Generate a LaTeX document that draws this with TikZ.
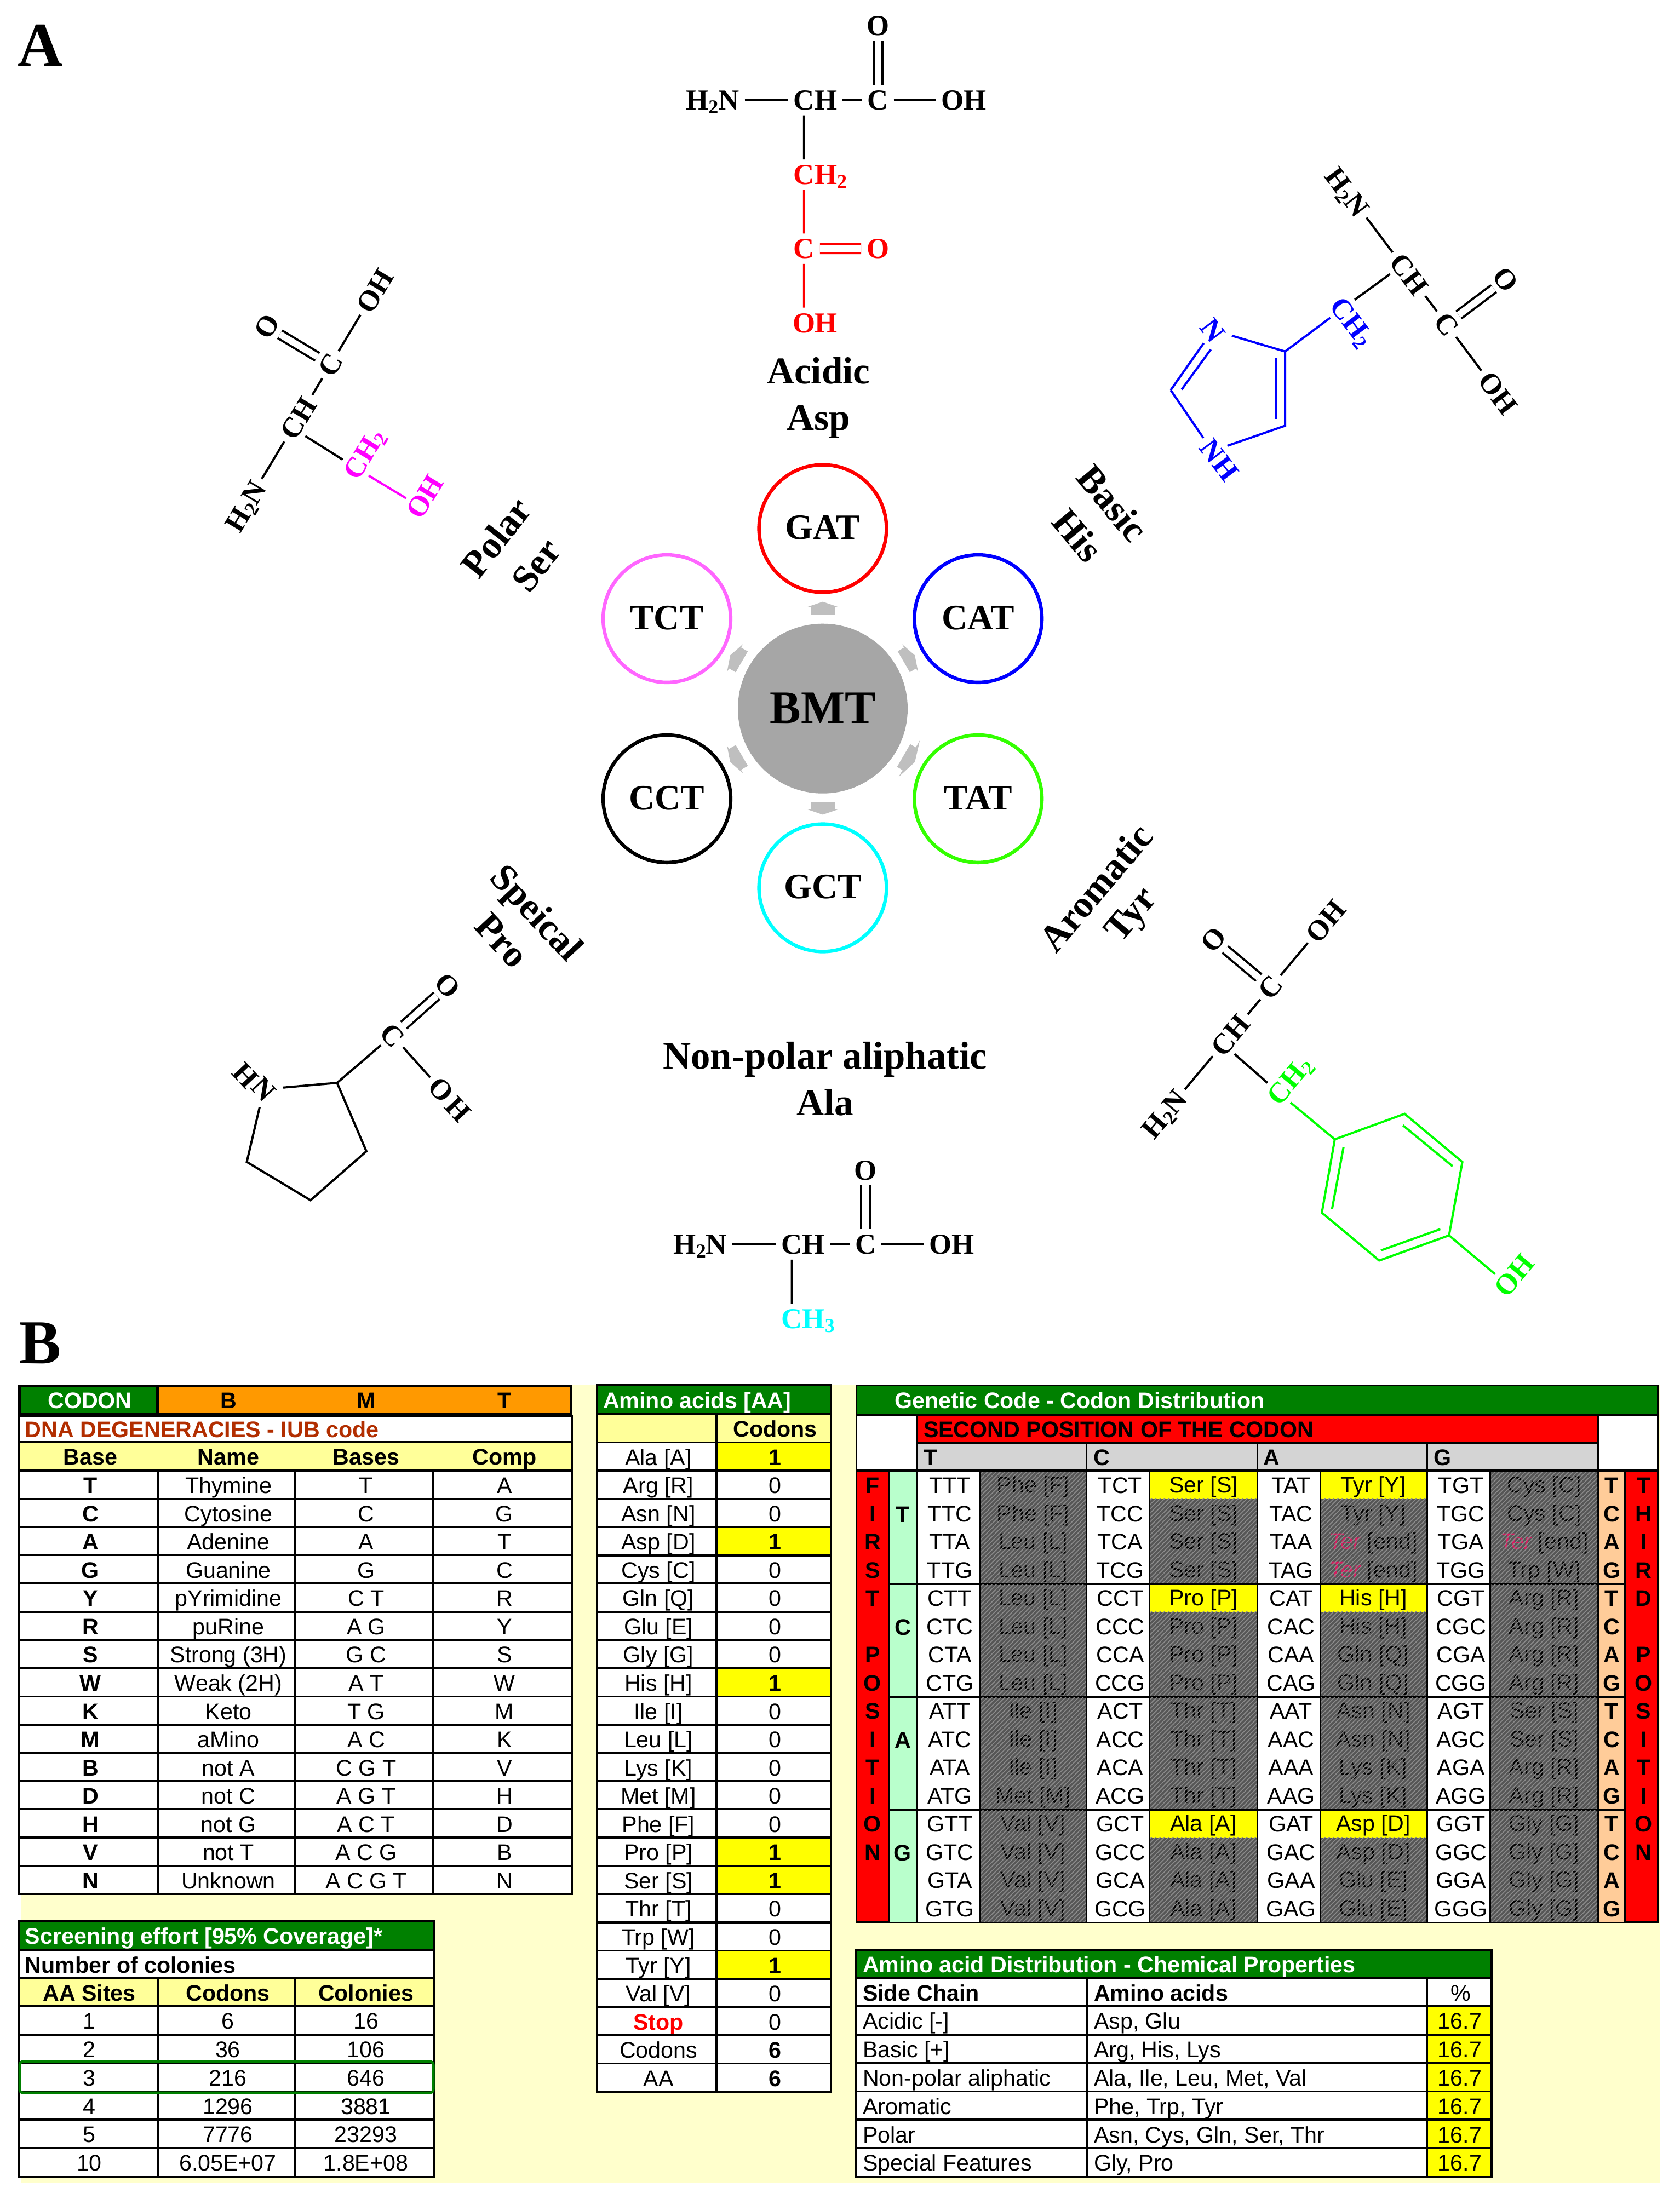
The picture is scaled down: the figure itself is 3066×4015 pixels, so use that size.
\documentclass[tikz,border=0pt]{standalone}
\usepackage{fontspec}
\setmainfont{Liberation Sans}
\newfontfamily\tms{Liberation Serif}
\usetikzlibrary{patterns.meta,arrows.meta,calc}
\definecolor{yellow}{HTML}{FFFF00}
\definecolor{cyan}{HTML}{00FFFF}
\definecolor{cream}{HTML}{FFFFCC}
\definecolor{yel}{HTML}{FFFF99}
\definecolor{dgreen}{HTML}{008000}
\definecolor{orng}{HTML}{FF9900}
\definecolor{iub}{HTML}{B22E00}
\definecolor{pale}{HTML}{B9FFCC}
\definecolor{peach}{HTML}{FFCC99}
\definecolor{hgrey}{HTML}{D4D4D4}
\definecolor{hatchbg}{HTML}{565656}
\definecolor{hatchln}{HTML}{8C8C8C}
\definecolor{tercol}{HTML}{D81B60}
\definecolor{arrowg}{HTML}{BFBFBF}
\definecolor{bmtg}{HTML}{A6A6A6}
\definecolor{lime}{HTML}{33FF00}
\definecolor{tct}{HTML}{FF66FF}
\newcommand\atsub[1]{\raisebox{-0.28ex}{\fontsize{9}{9}\selectfont #1}}
\newcommand\Ter{\textcolor{tercol}{\itshape Ter} [end]}
\tikzset{
 tc/.style={inner sep=0pt,outer sep=0pt,text height=7.9pt,text depth=0pt,font=\fontsize{10.3}{12}\selectfont},
 tb/.style={tc,font=\fontsize{10.3}{12}\selectfont\bfseries},
 atom/.style={inner sep=0pt,outer sep=2.5pt,text height=8.9pt,text depth=0pt,font=\tms\bfseries\fontsize{13.2}{15}\selectfont},
 lab/.style={inner sep=0pt,text height=11.6pt,text depth=0pt,font=\tms\bfseries\fontsize{17.3}{20}\selectfont},
 panel/.style={inner sep=0pt,text height=19.3pt,text depth=0pt,font=\tms\bfseries\fontsize{28.5}{32}\selectfont},
 ring/.style={circle,draw,line width=1.6pt,minimum size=58.2pt,inner sep=0pt,fill=white,
   text height=9.8pt,text depth=0pt,font=\tms\bfseries\fontsize{16.3}{19}\selectfont},
 bond/.style={line width=1pt,line cap=butt},
 dbl/.style={line width=1pt,double=white,double distance=3pt},
 gl/.style={line width=0.9pt,black},
 fat/.style={line width=11pt,draw=arrowg,-{Triangle[width=14.5pt,length=2.5pt]},shorten <=3.75pt,shorten >=3.5pt},
 hatchover/.style={pattern={Lines[angle=45,distance=1.4pt,line width=0.42pt]},pattern color=hatchln},
}
% one backbone H2N-CH-C(=O)-OH, with the C of CH at the given point
\newcommand\backbone[4]{%
 \begin{scope}[shift={(#2,#3)},rotate=#4,transform shape]
  \node[atom] (#1ca) at (0,0) {C};
  \node[atom] (#1ha) at (39.75,0) {H};
  \node[atom] (#1cb) at (134.7,0) {C};
  \node[atom] (#1o) at (134.7,-135.7) {O};
  \node[atom] (#1oh) at (291.8,0) {OH};
  \node[atom] (#1n) at (-167,0) {H\atsub{2}N};
  \draw[bond] (#1n) -- (#1ca);
  \draw[bond] (#1ha) -- (#1cb);
  \draw[bond] (#1cb) -- (#1oh);
  \draw[dbl] (#1cb) -- (#1o);
 \end{scope}}
% genetic code
\newcommand\gcline[5]{% col, group, j, codon, aa
 \pgfmathsetmacro\gy{2685.4+206*#2+51.5*#3+25.3}
 \ifcase#1\or\def\gcx{1734}\def\gax{1886}\or\def\gcx{2045}\def\gax{2197}\or\def\gcx{2357}\def\gax{2507}\or\def\gcx{2667}\def\gax{2819}\fi
 \node[tc] (gc-#1-#2-#3) at (\gcx,\gy) {#4};
 \node[tc] (ga-#1-#2-#3) at (\gax,\gy-1) {#5};}
\newcommand\gcgroup[8]{% col, group, two letters, aa1..aa4, flag
 \ifcase#1\or\def\cA{1675}\def\cB{1787}\def\hA{1790}\def\hB{1982}\or\def\cA{1985}\def\cB{2098}\def\hA{2100}\def\hB{2294}\or\def\cA{2297}\def\cB{2409}\def\hA{2411}\def\hB{2604}\or\def\cA{2607}\def\cB{2719}\def\hA{2722}\def\hB{2916}\fi
 \pgfmathsetmacro\gA{2687.5+206*#2}
 \pgfmathsetmacro\gB{2887.5+206*#2+3}
 \pgfmathsetmacro\gC{\gA+49}
 \fill[white] (\cA,\gA) rectangle (\cB,\gB);
 \fill[hatchbg] (\hA,\gA) rectangle (\hB,\gB);
 \if#8y\fill[yellow] (\hA,\gA) rectangle (\hB,\gC);\fi
 \gcline{#1}{#2}{0}{#3T}{#4}
 \gcline{#1}{#2}{1}{#3C}{#5}
 \gcline{#1}{#2}{2}{#3A}{#6}
 \gcline{#1}{#2}{3}{#3G}{#7}
 \if#8y\path[hatchover] (\hA,\gC) rectangle (\hB,\gB);\else\path[hatchover] (\hA,\gA) rectangle (\hB,\gB);\fi}
\begin{document}
\begin{tikzpicture}[x=0.25pt,y=-0.25pt]
\useasboundingbox[fill=white] (0,0) rectangle (3066,4015);
% ---------- panel letters
\node[panel] (panelA) at (74,82) {A};
\node[panel] (panelB) at (74,2451) {B};
% ---------- hub
\node[circle,fill=bmtg,minimum size=77.5pt,inner sep=0pt,text height=13.3pt,text depth=0pt,font=\tms\bfseries\fontsize{21.2}{24}\selectfont] (bmt) at (1502,1293.7) {BMT};
\node[ring,draw=red] (gat) at (1502,965) {GAT};
\node[ring,draw=blue] (cat) at (1785.7,1129.5) {CAT};
\node[ring,draw=lime] (tat) at (1785.7,1458.4) {TAT};
\node[ring,draw=cyan] (gct) at (1502,1621) {GCT};
\node[ring,draw=black] (cct) at (1217.5,1458.4) {CCT};
\node[ring,draw=tct] (tctn) at (1217.5,1129.5) {TCT};
\draw[fat] (bmt) -- (gat);
\draw[fat] (bmt) -- (cat);
\draw[fat,line width=12pt,-{Triangle[width=19.2pt,length=3pt]}] (bmt) -- (tat);
\draw[fat] (bmt) -- (gct);
\draw[fat] (bmt) -- (cct);
\draw[fat] (bmt) -- (tctn);
% ---------- Asp
\backbone{asp}{1467.9}{182.7}{0}
\begin{scope}[shift={(1150,0)},scale=0.5102]
 \node[atom,red] (aspc2) at (623,625) {C};
 \node[atom,red] (asph2) at (701,625) {H\rlap{\atsub{2}}};
 \node[atom,red] (aspc3) at (623,890) {C};
 \node[atom,red] (aspo3) at (887,890) {O};
 \node[atom,red] (aspo4) at (623,1155) {O};
 \node[atom,red] (asph4) at (701,1155) {H};
 \draw[bond] (aspca) -- (aspc2);
 \draw[bond,red] (aspc2) -- (aspc3);
 \draw[bond,red] (aspc3) -- (aspo4);
 \draw[dbl,red] (aspc3) -- (aspo3);
 \node[lab] (lAcidic) at (675,1328) {Acidic};
 \node[lab] (lAsp) at (675,1495) {Asp};
\end{scope}
% ---------- His
\backbone{his}{2559.8}{484.1}{-53.1}
\begin{scope}[shift={(1950,250)},scale=0.5425,blue]
 \node[atom,rotate=-53] (hisc2) at (923,578) {C};
 \node[atom,rotate=-53] (hish2) at (967,637) {H\rlap{\atsub{2}}};
 \node[atom,rotate=-53] (hisn1) at (487,650) {N};
 \node[atom,rotate=-53] (hisn2) at (485,1057) {N};
 \node[atom,rotate=-53] (hish3) at (531,1116) {H};
 \coordinate (hisr1) at (730,722);
 \coordinate (hisr2) at (730,972);
 \coordinate (hisr4) at (345,852);
 \coordinate (hisi1) at (700,745);
 \coordinate (hisi2) at (700,950);
 \coordinate (hisi3) at (382,850);
 \coordinate (hisi4) at (480,715);
 \draw[bond,black] (hisca) -- (hisc2);
 \draw[bond] (hisc2) -- (hisr1);
 \draw[bond] (hisn1) -- (hisr1);
 \draw[bond,line join=miter] (hisn2) -- (hisr2) -- (hisr1);
 \draw[bond] (hisn1) -- (hisr4);
 \draw[bond] (hisr4) -- (hisn2);
 \draw[bond] (hisi1) -- (hisi2);
 \draw[bond] (hisi3) -- (hisi4);
\end{scope}
\begin{scope}[black]
\node[lab,rotate=-50] (lBasic) at (2031,919) {Basic};
\node[lab,rotate=-50] (lHis) at (1967,978) {His};
\end{scope}
% ---------- Ser
\backbone{ser}{533.9}{781.3}{59}
\begin{scope}[shift={(350,450)},scale=0.4464]
 \definecolor{mag}{HTML}{FF00FF}
 \node[atom,rotate=59,mag] (serc2) at (670,905) {C};
 \node[atom,rotate=59,mag] (serh2) at (716,829) {H\rlap{\atsub{2}}};
 \node[atom,rotate=59,mag] (sero3) at (930,1062) {O};
 \node[atom,rotate=59,mag] (serh3) at (976,985) {H};
 \draw[bond] (serca) -- (serc2);
 \draw[bond,mag] (serc2) -- (sero3);
 \node[lab,rotate=52] (lPolar) at (1245,1190) {Polar};
 \node[lab,rotate=52] (lSer) at (1408,1303) {Ser};
\end{scope}
% ---------- Pro
\begin{scope}[shift={(350,1500)},scale=0.5102]
 \node[atom,rotate=-47] (proh) at (193,908) {H};
 \node[atom,rotate=-47] (pron) at (258,958) {N};
 \node[atom,rotate=-47] (proc) at (718,765) {C};
 \node[atom,rotate=-47] (proo) at (917,587) {O};
 \node[atom,rotate=-47] (prooh) at (893,960) {O};
 \node[atom,rotate=-47] (prohh) at (953,1030) {H};
 \coordinate (pror1) at (520,935);
 \coordinate (pror2) at (625,1180);
 \coordinate (pror3) at (425,1355);
 \coordinate (pror4) at (197,1218);
 \draw[bond] (pron) -- (pror1);
 \draw[bond] (pror1) -- (proc);
 \draw[bond,line join=miter] (pror1) -- (pror2) -- (pror3) -- (pror4) -- (pron);
 \draw[dbl] (proc) -- (proo);
 \draw[bond] (proc) -- (prooh);
 \node[lab,rotate=-47] (lSpeical) at (1235,325) {Speical};
 \node[lab,rotate=-47] (lPro) at (1110,425) {Pro};
\end{scope}
% ---------- Tyr
\backbone{tyr}{2232.7}{1906}{50}
\begin{scope}[shift={(1850,1450)},scale=0.6378]
 \definecolor{grn}{HTML}{00FF00}
 \node[atom,rotate=50,grn] (tyrc2) at (760,855) {C};
 \node[atom,rotate=50,grn] (tyrh2) at (800,807) {H\rlap{\atsub{2}}};
 \node[atom,rotate=50,grn] (tyro) at (1412,1402) {O};
 \node[atom,rotate=50,grn] (tyrhh) at (1454,1352) {H};
 \coordinate (tyrr1) at (920,988);
 \coordinate (tyrr2) at (1120,915);
 \coordinate (tyrr3) at (1285,1053);
 \coordinate (tyrr4) at (1247,1263);
 \coordinate (tyrr5) at (1047,1335);
 \coordinate (tyrr6) at (883,1198);
 \coordinate (tyri1) at (1115,948);
 \coordinate (tyri2) at (1257,1065);
 \coordinate (tyri3) at (1222,1245);
 \coordinate (tyri4) at (1052,1306);
 \coordinate (tyri5) at (945,1010);
 \coordinate (tyri6) at (912,1188);
 \draw[bond] (tyrca) -- (tyrc2);
 \draw[bond,grn] (tyrc2) -- (tyrr1);
 \draw[bond,grn,line join=miter] (tyrr1) -- (tyrr2) -- (tyrr3) -- (tyrr4) -- (tyrr5) -- (tyrr6) -- cycle;
 \draw[bond,grn] (tyrr4) -- (tyro);
 \draw[bond,grn] (tyri1) -- (tyri2);
 \draw[bond,grn] (tyri3) -- (tyri4);
 \draw[bond,grn] (tyri5) -- (tyri6);
 \node[lab,rotate=50] (lAromatic) at (236,268) {Aromatic};
 \node[lab,rotate=50] (lTyr) at (333,342) {Tyr};
\end{scope}
% ---------- Ala
\backbone{ala}{1445.5}{2272}{0}
\begin{scope}[shift={(1150,1850)},scale=0.4464]
 \node[atom,cyan] (alac2) at (662,1250) {C};
 \node[atom,cyan] (alah2) at (751,1250) {H\rlap{\atsub{3}}};
 \draw[bond] (alaca) -- (alac2);
 \node[lab,font=\tms\bfseries\fontsize{17.7}{20}\selectfont] (lNonpolar) at (798,176) {Non-polar aliphatic};
 \node[lab] (lAla) at (798,366) {Ala};
\end{scope}
% ---------- cream ground
\fill[cream] (38,2529) rectangle (3030,3986);
% ---------- table 1: IUB code
\fill[white] (33,2585) rectangle (1045,3458);
\fill[yel] (33,2633) rectangle (1045,2685);
\fill[black] (33,2529) rectangle (1045,2585);
\fill[dgreen] (38.5,2533) rectangle (284,2579);
\fill[orng] (291,2533) rectangle (1040,2579);
\node[tb,white] (codon) at (164,2556) {CODON};
\node[tb] (hB) at (417,2556) {B};
\node[tb] (hM) at (668.5,2556) {M};
\node[tb] (hT) at (921,2556) {T};
\node[tb,iub,anchor=west] (iubt) at (46,2609) {DNA DEGENERACIES - IUB code};
\node[tb] (bh1) at (165,2659) {Base};
\node[tb] (bh2) at (417,2659) {Name};
\node[tb] (bh3) at (668.5,2659) {Bases};
\node[tb] (bh4) at (921,2659) {Comp};
\foreach \a/\b/\c/\d [count=\k from 0] in {T/Thymine/T/A,C/Cytosine/C/G,A/Adenine/A/T,G/Guanine/G/C,Y/pYrimidine/C T/R,R/puRine/A G/Y,S/Strong (3H)/G C/S,W/Weak (2H)/A T/W,K/Keto/T G/M,M/aMino/A C/K,B/not A/C G T/V,D/not C/A G T/H,H/not G/A C T/D,V/not T/A C G/B,N/Unknown/A C G T/N}{
 \pgfmathsetmacro\yy{2685+51.55*\k+25.8}
 \node[tb] (iub\k a) at (165,\yy) {\a};
 \node[tc] (iub\k b) at (417,\yy) {\b};
 \node[tc] (iub\k c) at (668.5,\yy) {\c};
 \node[tc] (iub\k d) at (921,\yy) {\d};
 \pgfmathsetmacro\yl{2685+51.55*\k}
 \draw[gl] (34,\yl) -- (1044,\yl);
}
\draw[gl] (34,2633) -- (1044,2633);
\draw[gl] (288,2685) -- (288,3458) (539,2685) -- (539,3458) (791,2685) -- (791,3458);
\draw[line width=1.1pt] (34,2585) rectangle (1044,3458);
% ---------- table 2: amino acids
\fill[white] (1090,2582) rectangle (1517,3819);
\fill[dgreen] (1090,2529) rectangle (1517,2582);
\fill[yel] (1090,2582) rectangle (1517,2633);
\node[tb,white,anchor=west] (aah) at (1101,2556) {Amino acids [AA]};
\node[tb] (cdh) at (1415,2608) {Codons};
\foreach \a/\b/\f [count=\k from 0] in {Ala [A]/1/1,Arg [R]/0/0,Asn [N]/0/0,Asp [D]/1/1,Cys [C]/0/0,Gln [Q]/0/0,Glu [E]/0/0,Gly [G]/0/0,His [H]/1/1,Ile [I]/0/0,Leu [L]/0/0,Lys [K]/0/0,Met [M]/0/0,Phe [F]/0/0,Pro [P]/1/1,Ser [S]/1/1,Thr [T]/0/0,Trp [W]/0/0,Tyr [Y]/1/1,Val [V]/0/0}{
 \pgfmathsetmacro\yl{2633.5+51.55*\k}
 \pgfmathsetmacro\yn{\yl+51.55}
 \pgfmathsetmacro\yy{\yl+25.8}
 \ifnum\f=1 \fill[yellow] (1308,\yl) rectangle (1517,\yn);\fi
 \node[tc] (aa\k a) at (1202,\yy) {\a};
 \ifnum\f=1 \node[tb] (aa\k b) at (1415,\yy) {\b};\else\node[tc] (aa\k b) at (1415,\yy) {\b};\fi
}
\foreach \k/\a in {20/Stop,21/Codons,22/AA}{
 \pgfmathsetmacro\yy{2633.5+51.55*\k+25.8}
 \ifnum\k=20 \node[tb,red] (aa\k a) at (1202,\yy) {\a};\node[tc] (aa\k b) at (1415,\yy) {0};
 \else\node[tc] (aa\k a) at (1202,\yy) {\a};\node[tb] (aa\k b) at (1415,\yy) {6};\fi
}
\foreach \k in {-1,0,...,22}{
 \pgfmathsetmacro\yl{2633.5+51.55*\k}
 \draw[gl] (1090,\yl) -- (1517,\yl);
}
\draw[gl] (1308,2582) -- (1308,3819);
\draw[line width=1.1pt] (1090,2529) rectangle (1517,3819);
% ---------- genetic code
\fill[black] (1562,2528) rectangle (3028,3511);
\fill[dgreen] (1565,2531) rectangle (3025,2581);
\node[tb,white,anchor=west] (gch) at (1633.5,2556) {Genetic Code - Codon Distribution};
\fill[white] (1565,2585) rectangle (1672,2683);
\fill[white] (2919,2585) rectangle (3025,2683);
\fill[red] (1675,2585) rectangle (2916,2633);
\node[tb,anchor=west] (gsec) at (1686,2609) {SECOND POSITION OF THE CODON};
\fill[hgrey] (1675,2636) rectangle (1982,2683);
\fill[hgrey] (1985,2636) rectangle (2294,2683);
\fill[hgrey] (2297,2636) rectangle (2604,2683);
\fill[hgrey] (2607,2636) rectangle (2916,2683);
\node[tb,anchor=west] (gt2) at (1686,2660) {T};
\node[tb,anchor=west] (gc2) at (1996,2660) {C};
\node[tb,anchor=west] (ga2) at (2306,2660) {A};
\node[tb,anchor=west] (gg2) at (2617,2660) {G};
\fill[red] (1565,2687) rectangle (1621,3508);
\fill[red] (2969,2687) rectangle (3025,3508);
\foreach \g/\l in {0/T,1/C,2/A,3/G}{
 \pgfmathsetmacro\gA{2687.5+206*\g}
 \pgfmathsetmacro\gB{\gA+203}
 \pgfmathsetmacro\gM{2685.4+206*\g+78.5}
 \fill[pale] (1625,\gA) rectangle (1672,\gB);
 \node[tb] (first\l) at (1648,\gM) {\l};
 \fill[peach] (2919,\gA) rectangle (2965,\gB);
 \foreach \j/\m in {0/T,1/C,2/A,3/G}{
  \pgfmathsetmacro\gy{2685.4+206*\g+51.5*\j+25.5}
  \node[tb] (third\g\m) at (2942,\gy) {\m};
 }
}
\foreach \l/\k in {F/0,I/1,R/2,S/3,T/4,P/6,O/7,S/8,I/9,T/10,I/11,O/12,N/13}{
 \pgfmathsetmacro\gy{2685.4+51.5*\k+25.5}
 \node[tb,black] (fp\k) at (1593,\gy) {\l};
}
\foreach \l/\k in {T/0,H/1,I/2,R/3,D/4,P/6,O/7,S/8,I/9,T/10,I/11,O/12,N/13}{
 \pgfmathsetmacro\gy{2685.4+51.5*\k+25.5}
 \node[tb,black] (tp\k) at (3000.7,\gy) {\l};
}
\gcgroup{1}{0}{TT}{Phe [F]}{Phe [F]}{Leu [L]}{Leu [L]}{n}
\gcgroup{1}{1}{CT}{Leu [L]}{Leu [L]}{Leu [L]}{Leu [L]}{n}
\gcgroup{1}{2}{AT}{Ile [I]}{Ile [I]}{Ile [I]}{Met [M]}{n}
\gcgroup{1}{3}{GT}{Val [V]}{Val [V]}{Val [V]}{Val [V]}{n}
\gcgroup{2}{0}{TC}{Ser [S]}{Ser [S]}{Ser [S]}{Ser [S]}{y}
\gcgroup{2}{1}{CC}{Pro [P]}{Pro [P]}{Pro [P]}{Pro [P]}{y}
\gcgroup{2}{2}{AC}{Thr [T]}{Thr [T]}{Thr [T]}{Thr [T]}{n}
\gcgroup{2}{3}{GC}{Ala [A]}{Ala [A]}{Ala [A]}{Ala [A]}{y}
\gcgroup{3}{0}{TA}{Tyr [Y]}{Tyr [Y]}{\Ter}{\Ter}{y}
\gcgroup{3}{1}{CA}{His [H]}{His [H]}{Gln [Q]}{Gln [Q]}{y}
\gcgroup{3}{2}{AA}{Asn [N]}{Asn [N]}{Lys [K]}{Lys [K]}{n}
\gcgroup{3}{3}{GA}{Asp [D]}{Asp [D]}{Glu [E]}{Glu [E]}{y}
\gcgroup{4}{0}{TG}{Cys [C]}{Cys [C]}{\Ter}{Trp [W]}{n}
\gcgroup{4}{1}{CG}{Arg [R]}{Arg [R]}{Arg [R]}{Arg [R]}{n}
\gcgroup{4}{2}{AG}{Ser [S]}{Ser [S]}{Arg [R]}{Arg [R]}{n}
\gcgroup{4}{3}{GG}{Gly [G]}{Gly [G]}{Gly [G]}{Gly [G]}{n}
% ---------- screening effort
\fill[white] (34,3560) rectangle (793,3975);
\fill[dgreen] (34,3508) rectangle (793,3560);
\fill[yel] (34,3612) rectangle (793,3663);
\node[tb,white,anchor=west] (scr) at (46,3534) {Screening effort [95\% Coverage]*};
\node[tb,anchor=west] (ncol) at (46,3587) {Number of colonies};
\node[tb] (sh1) at (163,3638) {AA Sites};
\node[tb] (sh2) at (416,3638) {Codons};
\node[tb] (sh3) at (668,3638) {Colonies};
\foreach \a/\b/\c [count=\k from 3] in {1/6/16,2/36/106,3/216/646,4/1296/3881,5/7776/23293,10/6.05E+07/1.8E+08}{
 \pgfmathsetmacro\yy{3508+51.75*\k+25.9}
 \node[tc] (s\k a) at (163,\yy) {\a};
 \node[tc] (s\k b) at (416,\yy) {\b};
 \node[tc] (s\k c) at (668,\yy) {\c};
}
\foreach \k in {1,...,8}{
 \pgfmathsetmacro\yl{3508+51.75*\k}
 \draw[gl] (34,\yl) -- (793,\yl);
}
\draw[gl] (288,3612) -- (288,3974) (539,3612) -- (539,3974);
\draw[line width=1.1pt] (34,3508) rectangle (793,3975);
\draw[dgreen,line width=1.25pt,rounded corners=1.5pt] (36,3764) rectangle (791,3821);
% ---------- chemical properties
\fill[white] (1562,3612) rectangle (2723,3975);
\fill[dgreen] (1562,3560) rectangle (2723,3612);
\fill[yellow] (2605,3663) rectangle (2723,3975);
\node[tb,white,anchor=west] (cph) at (1575,3586) {Amino acid Distribution - Chemical Properties};
\node[tb,anchor=west] (cp1a) at (1575,3638) {Side Chain};
\node[tb,anchor=west] (cp1b) at (1997,3638) {Amino acids};
\node[tc] (cp1c) at (2667,3638) {\%};
\foreach \k/\yy in {2/3689,3/3741,4/3793,5/3845,6/3897,7/3948}{
 \node[tc] (cpv\k) at (2665,\yy) {16.7};
}
\node[tc,anchor=west] (cp2a) at (1575,3689) {Acidic [-]};
\node[tc,anchor=west] (cp2b) at (1997,3689) {Asp, Glu};
\node[tc,anchor=west] (cp3a) at (1575,3741) {Basic [+]};
\node[tc,anchor=west] (cp3b) at (1997,3741) {Arg, His, Lys};
\node[tc,anchor=west] (cp4a) at (1575,3793) {Non-polar aliphatic};
\node[tc,anchor=west] (cp4b) at (1997,3793) {Ala, Ile, Leu, Met, Val};
\node[tc,anchor=west] (cp5a) at (1575,3845) {Aromatic};
\node[tc,anchor=west] (cp5b) at (1997,3845) {Phe, Trp, Tyr};
\node[tc,anchor=west] (cp6a) at (1575,3897) {Polar};
\node[tc,anchor=west] (cp6b) at (1997,3897) {Asn, Cys, Gln, Ser, Thr};
\node[tc,anchor=west] (cp7a) at (1575,3948) {Special Features};
\node[tc,anchor=west] (cp7b) at (1997,3948) {Gly, Pro};
\foreach \k in {2,...,8}{
 \pgfmathsetmacro\yl{3508+51.75*\k}
 \draw[gl] (1562,\yl) -- (2723,\yl);
}
\draw[gl] (1984,3612) -- (1984,3974) (2605,3612) -- (2605,3974);
\draw[line width=1.1pt] (1562,3560) rectangle (2723,3975);
\end{tikzpicture}
\end{document}
